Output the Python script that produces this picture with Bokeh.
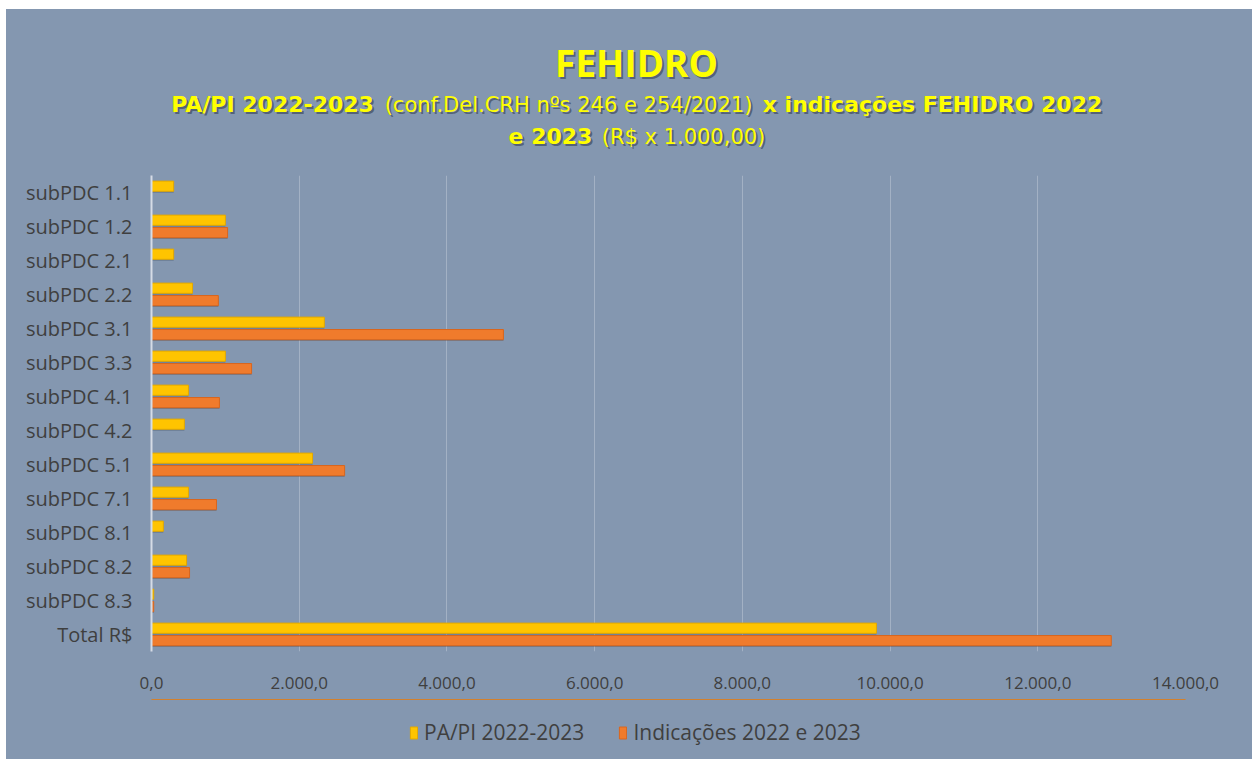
from bokeh.plotting import figure
from bokeh.layouts import column
from bokeh.models import FactorRange, Range1d, Legend, LegendItem, FixedTicker, ColumnDataSource
from bokeh.core.properties import value
from bokeh.transform import dodge
from bokeh.embed import file_html
from bokeh.resources import INLINE

# ---------------- data ----------------
categories = ["subPDC 1.1", "subPDC 1.2", "subPDC 2.1", "subPDC 2.2", "subPDC 3.1",
              "subPDC 3.3", "subPDC 4.1", "subPDC 4.2", "subPDC 5.1", "subPDC 7.1",
              "subPDC 8.1", "subPDC 8.2", "subPDC 8.3", "Total R$"]
papi = [300, 1000, 300, 555, 2340, 1000, 500, 445, 2180, 500, 160, 475, 30, 9815]
indicacoes = [0, 1030, 0, 905, 4765, 1355, 920, 0, 2615, 880, 0, 515, 30, 12995]
series_names = ["PA/PI 2022-2023", "Indicações 2022 e 2023"]
tick_values = [0, 2000, 4000, 6000, 8000, 10000, 12000, 14000]
tick_labels = ["0,0", "2.000,0", "4.000,0", "6.000,0", "8.000,0", "10.000,0", "12.000,0", "14.000,0"]
title_main = "FEHIDRO"
title_line1 = ["PA/PI 2022-2023", "(conf.Del.CRH nºs 246 e 254/2021)", "x indicações FEHIDRO 2022"]
title_line2 = ["e 2023", "(R$ x 1.000,00)"]

BG = "#8497B0"
YEL = "#FFC400"
ORA = "#F07B2C"
TXT = "#3F3F3F"
FONT = "Open Sans"
TFONT = "DejaVu Sans"
W = 1246
FRAME_L, FRAME_R = 152, 1186   # page pixel columns of the plotting frame (shared by all rows)

def styled(fig):
    fig.background_fill_color = None
    fig.border_fill_color = BG
    fig.outline_line_color = None
    fig.margin = (0, 0, 0, 0)

# ---------------- title figure ----------------
TH = 150
t = figure(width=W, height=TH, output_backend="svg", toolbar_location=None,
           x_range=Range1d(FRAME_L, FRAME_R), y_range=Range1d(TH, 0),
           min_border_left=145, min_border_right=67, min_border_top=0, min_border_bottom=0)
styled(t)
t.axis.visible = False
t.grid.visible = False

def title_text(txt, x, y, size, bold, font):
    style = "bold" if bold else "normal"
    t.text(x=[x], y=[y], text=[txt], text_font=value(font), text_font_size=size,
           text_font_style=style, text_color="#2B3546", text_alpha=0.55,
           text_align="center", text_baseline="middle", x_offset=2, y_offset=2)
    t.text(x=[x], y=[y], text=[txt], text_font=value(font), text_font_size=size,
           text_font_style=style, text_color="#FFFF00",
           text_align="center", text_baseline="middle")

title_text(title_main, 637, 53, "37px", True, FONT)
title_text(title_line1[0], 273, 95, "22px", True, TFONT)
title_text(title_line1[1], 569, 95, "21px", False, TFONT)
title_text(title_line1[2], 933, 95, "22px", True, TFONT)
title_text(title_line2[0], 551, 127, "22px", True, TFONT)
title_text(title_line2[1], 684, 127, "21px", False, TFONT)

# ---------------- main chart ----------------
src = ColumnDataSource(dict(cat=categories, papi=papi, ind=indicacoes))

p = figure(width=W, height=540, output_backend="svg", toolbar_location=None,
           y_range=FactorRange(factors=list(reversed(categories)), range_padding=0.0),
           x_range=Range1d(0, 14000),
           min_border_left=145, min_border_right=67, min_border_top=16, min_border_bottom=48)
styled(p)

# soft drop shadows
p.hbar(y=dodge("cat", 0.145, range=p.y_range), right="papi", left=0, height=0.3,
       source=src, fill_color="#2E3A4C", fill_alpha=0.3, line_color=None)
p.hbar(y=dodge("cat", -0.22, range=p.y_range), right="ind", left=0, height=0.3,
       source=src, fill_color="#2E3A4C", fill_alpha=0.3, line_color=None)

p.hbar(y=dodge("cat", 0.185, range=p.y_range), right="papi", left=0, height=0.3,
       source=src, fill_color=YEL, line_color="#E2A800", line_width=1)
p.hbar(y=dodge("cat", -0.18, range=p.y_range), right="ind", left=0, height=0.3,
       source=src, fill_color=ORA, line_color="#D8661E", line_width=1)

p.xaxis.ticker = FixedTicker(ticks=tick_values)
p.xaxis.major_label_overrides = {v: l for v, l in zip(tick_values, tick_labels)}
p.xaxis.axis_line_color = None
p.xaxis.major_tick_line_color = None
p.xaxis.minor_tick_line_color = None
p.xaxis.major_label_text_font = FONT
p.xaxis.major_label_text_font_size = "17px"
p.xaxis.major_label_text_color = TXT
p.xaxis.major_label_standoff = 19

p.yaxis.axis_line_color = "#D5DCE6"
p.yaxis.axis_line_width = 2
p.yaxis.major_tick_line_color = None
p.yaxis.minor_tick_line_color = None
p.yaxis.major_label_text_font = FONT
p.yaxis.major_label_text_font_size = "20px"
p.yaxis.major_label_text_color = TXT
p.yaxis.major_label_standoff = 13

p.xgrid.grid_line_color = "#A3B1C4"
p.xgrid.grid_line_width = 1
p.ygrid.grid_line_color = None

# ---------------- legend row ----------------
LH = 60
lg = figure(width=W, height=LH, output_backend="svg", toolbar_location=None,
            x_range=Range1d(0, 1), y_range=Range1d(0, 1),
            min_border_left=145, min_border_right=67, min_border_top=0, min_border_bottom=0)
styled(lg)
lg.axis.visible = False
lg.grid.visible = False
# legend key proxies (kept outside the visible range of this strip)
proxy = ColumnDataSource(dict(y=[5], right=[1]))
k1 = lg.hbar(y="y", right="right", left=0, height=0.1, source=proxy,
             fill_color=YEL, line_color="#E2A800")
k2 = lg.hbar(y="y", right="right", left=0, height=0.1, source=proxy,
             fill_color=ORA, line_color="#D8661E")
legend = Legend(items=[LegendItem(label=series_names[0], renderers=[k1]),
                       LegendItem(label=series_names[1], renderers=[k2])],
                orientation="horizontal", location=(258, 13),
                background_fill_alpha=0, border_line_color=None,
                label_text_font=FONT, label_text_font_size="21px", label_text_color=TXT,
                glyph_width=9, glyph_height=15, spacing=34, label_standoff=6,
                padding=0, margin=0)
lg.add_layout(legend, "center")

layout = column(t, p, lg, spacing=0)
layout.margin = (9, 0, 0, 6)
layout.background = BG
open("out.html", "w").write(file_html(layout, INLINE))
